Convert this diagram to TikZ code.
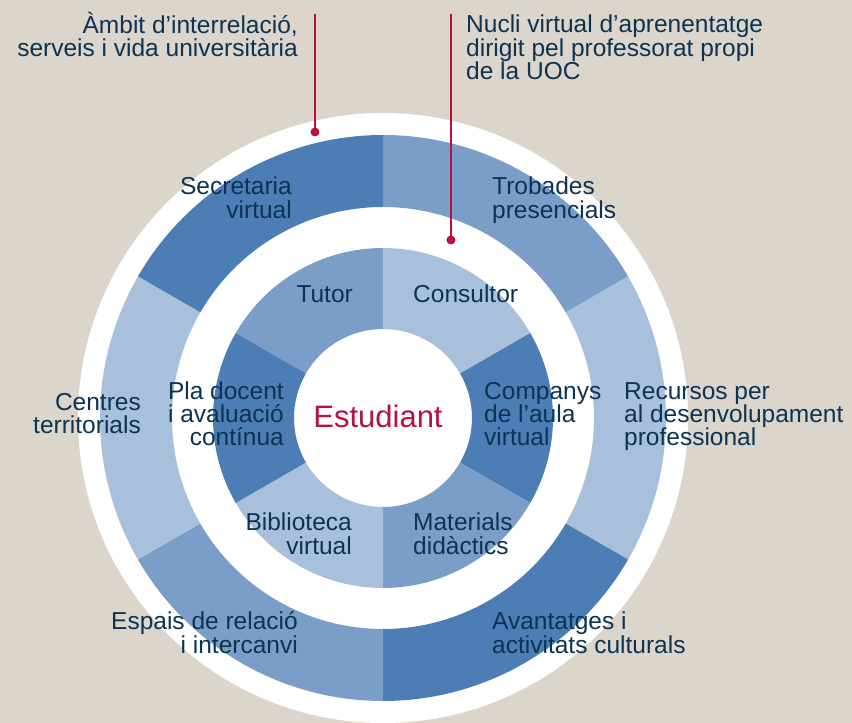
\documentclass[tikz,border=0pt]{standalone}
\usepackage{fontspec}
\setmainfont{Liberation Sans}
\usepackage{xcolor}
\usetikzlibrary{positioning}
\definecolor{fons}{HTML}{DCD5CC}
\definecolor{blaufosc}{HTML}{4C7DB5}
\definecolor{blaumig}{HTML}{7B9EC8}
\definecolor{blauclar}{HTML}{A9C0DD}
\definecolor{tinta}{HTML}{0D3352}
\definecolor{granat}{HTML}{B5123E}
\tikzset{
    x=1pt, y=1pt, % one unit is one pixel of the layout
    etiqueta/.style={text=tinta, inner sep=0pt, font=\fontsize{24.5}{23.5}\selectfont}, % text of the rings
    dreta/.style={etiqueta, align=left, anchor=base west}, % labels right of the axis
    esquerra/.style={etiqueta, align=right, anchor=base east}, % labels left of the axis
    punt/.style={circle, fill=granat, minimum size=9pt, inner sep=0pt},
    linia/.style={granat, line width=2pt},
}
% one piece of a ring: start angle, end angle, inner radius, outer radius, colour
\newcommand{\tros}[5]{\fill[#5] (#1:#3pt) arc[start angle=#1, end angle=#2, radius=#3pt]
    -- (#2:#4pt) arc[start angle=#2, end angle=#1, radius=#4pt] -- cycle;}

\begin{document}
\begin{tikzpicture}
    \fill[fons] (-383,-305) rectangle (469,418);
    \useasboundingbox (-383,-305) rectangle (469,418);

    % Anells
    \fill[white] (0,0) circle[radius=305pt];
    \tros{90}{150}{211}{283}{blaufosc}
    \tros{30}{90}{211}{283}{blaumig}
    \tros{-30}{30}{211}{283}{blauclar}
    \tros{-90}{-30}{211}{283}{blaufosc}
    \tros{-150}{-90}{211}{283}{blaumig}
    \tros{150}{210}{211}{283}{blauclar}

    \tros{90}{150}{89}{170}{blaumig}
    \tros{30}{90}{89}{170}{blauclar}
    \tros{-30}{30}{89}{170}{blaufosc}
    \tros{-90}{-30}{89}{170}{blaumig}
    \tros{-150}{-90}{89}{170}{blauclar}
    \tros{150}{210}{89}{170}{blaufosc}

    % Etiquetes (base = last line)
    \node[anchor=base, text=granat, inner sep=0pt, font=\fontsize{31}{31}\selectfont] (est) at (-5,-10) {Estudiant};

    \node[esquerra] (secr) at (-91,199.5) {Secretaria\\virtual};
    \node[dreta] (trob) at (109,199.5) {Trobades\\presencials};
    \node[esquerra] (tut) at (-30,115) {Tutor};
    \node[dreta] (cons) at (30,115) {Consultor};
    \node[esquerra] (pla) at (-99,-28) {Pla docent\\i avaluació\\contínua};
    \node[dreta] (comp) at (101,-28) {Companys\\de l’aula\\virtual};
    \node[esquerra] (cent) at (-242,-16) {Centres\\territorials};
    \node[dreta] (recu) at (241,-28) {Recursos per\\al desenvolupament\\professional};
    \node[esquerra] (bibl) at (-31,-136) {Biblioteca\\virtual};
    \node[dreta] (mate) at (30,-136) {Materials\\didàctics};
    \node[esquerra] (espa) at (-85,-235) {Espais de relació\\i intercanvi};
    \node[dreta] (avan) at (109,-235) {Avantatges i\\activitats culturals};

    \node[esquerra] (ambit) at (-85,361) {Àmbit d’interrelació,\\serveis i vida universitària};
    \node[dreta] (nucli) at (83,338) {Nucli virtual d’aprenentatge\\dirigit pel professorat propi\\de la UOC};

    % Linies
    \coordinate (a) at (-68,404);
    \coordinate (n) at (68,404);
    \node[punt] (pa) at (-68,286) {};
    \node[punt] (pn) at (68,178) {};
    \draw[linia] (a) -- (pa.center);
    \draw[linia] (n) -- (pn.center);
\end{tikzpicture}
\end{document}
